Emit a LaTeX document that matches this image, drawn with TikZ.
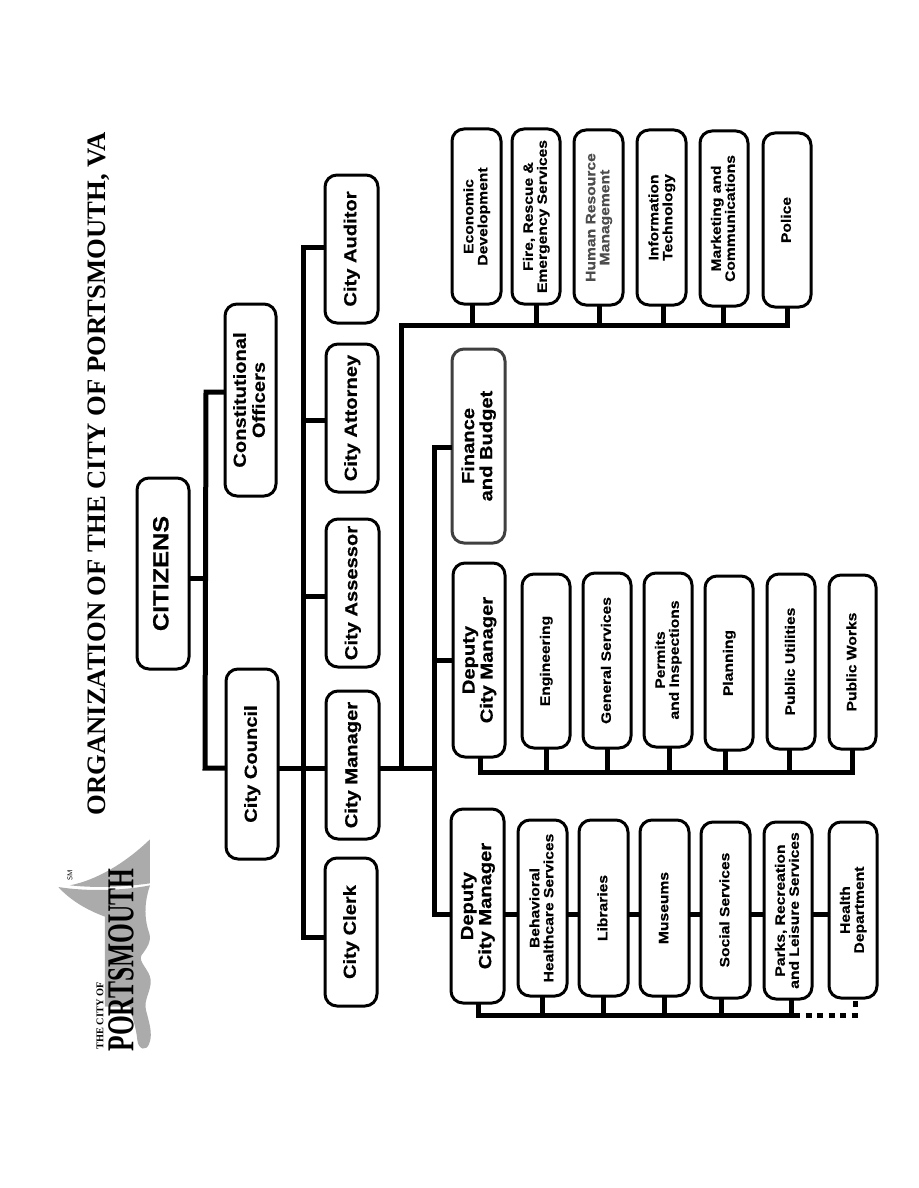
\documentclass[tikz,border=0pt]{standalone}
\usepackage{graphicx}
\usepackage{fontspec}
\setmainfont{Liberation Serif}
\newfontfamily\labfont[FakeStretch=1.15,BoldFeatures={FakeBold=0.5}]{Liberation Sans}
\newcommand\lbl[3]{\hspace{2pt}\rotatebox{90}{\fontsize{#1}{#2}\selectfont\labfont\bfseries\begin{tabular}{@{}c@{}}#3\end{tabular}}}
\newcommand\ubox[7][]{\node[orgbox,#1,minimum width={#4-#2-2},minimum height={#5-#3-2}] (#6) at ({(#2+#4)/2},{(#3+#5)/2}) {#7};}
\colorlet{sail}{black!33}
\tikzset{
 orgbox/.style={draw=black,line width=3pt,rounded corners=12pt,fill=white,inner sep=0pt,outer sep=0pt},
 grayorg/.style={draw=black!75},
 link/.style={draw=black,line width=5pt,line cap=butt,line join=miter},
 dotlink/.style={draw=black,line width=5pt,dash pattern=on 6pt off 5.5pt},
}
\begin{document}
\begin{tikzpicture}[x=1pt,y=-1pt]
\useasboundingbox (0,0) rectangle (918,1188);
\fill[white] (0,0) rectangle (918,1188);
% logo
\begin{scope}[shift={(50,820)},x=0.3333pt,y=-0.3333pt]
\fill[sail] (300,58) .. controls (225,130) and (140,180) .. (60,196) .. controls (140,205) and (230,200) .. (300,190) -- cycle;
\fill[sail] (25,201) .. controls (110,215) and (220,212) .. (300,196) .. controls (285,240) and (280,290) .. (298,340) .. controls (305,365) and (290,385) .. (275,405) .. controls (262,425) and (300,450) .. (302,480) .. controls (305,510) and (280,540) .. (288,570) .. controls (295,600) and (310,640) .. (298,670) .. controls (290,695) and (265,690) .. (262,660) .. controls (258,620) and (248,600) .. (240,560) -- (165,560) -- (165,290) .. controls (110,270) and (60,240) .. (25,201) -- cycle;
\end{scope}
\node[rotate=90,anchor=center,inner sep=0pt,font=\fontsize{7}{7}\selectfont\sffamily] (sm) at (70,875) {SM};
\node[rotate=90,anchor=center,inner sep=0pt,font=\fontsize{10.3}{11}\selectfont\bfseries] (tco) at (100,1016) {THE CITY OF};
\node[rotate=90,anchor=center,inner sep=0pt] (pts) at (121,960) {\fontsize{38}{38}\selectfont\bfseries\scalebox{0.67}[1]{PORTSMOUTH}};
% title
\node[rotate=90,anchor=center,inner sep=0pt,font=\fontsize{26.65}{28}\selectfont\bfseries] (title) at (99,474) {ORGANIZATION OF THE CITY OF PORTSMOUTH, VA};
% boxes
\ubox{136}{477}{190}{670}{cit}{\lbl{22}{22}{CITIZENS}}
\ubox{224}{303}{277}{497}{con}{\lbl{17.5}{19}{Constitutional\\Officers}}
\ubox{225}{668}{279}{860}{cou}{\lbl{17.5}{19}{City Council}}
\ubox{324}{857}{378}{1007}{cle}{\lbl{17.5}{19}{City Clerk}}
\ubox{325}{690}{380}{840}{man}{\lbl{17.5}{19}{City Manager}}
\ubox{325}{518}{380}{668}{ass}{\lbl{17.5}{19}{City Assessor}}
\ubox{325}{343}{379}{493}{att}{\lbl{17.5}{19}{City Attorney}}
\ubox{324}{174}{379}{324}{aud}{\lbl{17.5}{19}{City Auditor}}
\ubox{450}{808}{505}{1004}{dcma}{\lbl{17.5}{18}{Deputy\\City Manager}}
\ubox{452}{562}{506}{758}{dcmb}{\lbl{17.5}{18}{Deputy\\City Manager}}
\ubox[grayorg]{451}{348}{506}{544}{fin}{\lbl{17.5}{18}{Finance\\and Budget}}
\ubox{451}{128}{502}{305}{eco}{\lbl{13.6}{14}{Economic\\Development}}
\ubox{511}{128}{561}{305}{fir}{\lbl{13.6}{14}{Fire, Rescue \&\\Emergency Services}}
\ubox{573}{129}{624}{306}{hrm}{\color{black!70}\lbl{13.6}{14}{Human Resource\\Management}}
\ubox{636}{129}{687}{306}{inf}{\lbl{13.6}{14}{Information\\Technology}}
\ubox{699}{130}{749}{307}{mar}{\lbl{13.6}{14}{Marketing and\\Communications}}
\ubox{762}{132}{812}{308}{pol}{\lbl{13.6}{14}{Police}}
\ubox{521}{573}{571}{749}{eng}{\lbl{13.6}{14}{Engineering}}
\ubox{582}{572}{632}{749}{gen}{\lbl{13.6}{14}{General Services}}
\ubox{643}{572}{693}{748}{per}{\lbl{13.6}{14}{Permits\\and Inspections}}
\ubox{704}{575}{754}{751}{pla}{\lbl{13.6}{14}{Planning}}
\ubox{766}{573}{816}{750}{uti}{\lbl{13.6}{14}{Public Utilities}}
\ubox{828}{574}{877}{750}{wor}{\lbl{13.6}{14}{Public Works}}
\ubox{517}{819}{568}{997}{beh}{\lbl{13.6}{14}{Behavioral\\Healthcare Services}}
\ubox{578}{819}{629}{997}{lib}{\lbl{13.6}{14}{Libraries}}
\ubox{639}{819}{690}{997}{mus}{\lbl{13.6}{14}{Museums}}
\ubox{700}{821}{751}{999}{soc}{\lbl{13.6}{14}{Social Services}}
\ubox{763}{821}{813}{1000}{par}{\lbl{13.6}{14}{Parks, Recreation\\and Leisure Services}}
\ubox{828}{821}{878}{999}{hea}{\lbl{13.6}{14}{Health\\Department}}
% junction coordinates
\coordinate (jcit) at (205,578);
\coordinate (jcon) at (206,392);
\coordinate (jcou) at (205,768);
\coordinate (bt) at (303.5,247);
\coordinate (bb) at (303.5,937);
\coordinate (batt) at (303.5,420);
\coordinate (bass) at (303.5,596);
\coordinate (jd) at (434,768);
\coordinate (jdt) at (434,447);
\coordinate (jdm) at (434,660);
\coordinate (jdb) at (434,914);
\coordinate (jm) at (401,768);
\coordinate (je) at (401,325);
\coordinate (ra) at (480,772);
\coordinate (rb) at (478,1015);
\coordinate (rbe) at (791,1015);
\coordinate (rh) at (855,1015);
% connectors
\draw[link] (cit.east |- jcit) -- (jcit);
\draw[link] (con.west |- jcon) -- (jcon) -- (jcou) -- (cou.west |- jcou);
\draw[link] (cou.east |- jcou) -- (man.west |- jcou);
\draw[link] (aud.west |- bt) -- (bt) -- (bb) -- (cle.west |- bb);
\draw[link] (bt |- batt) -- (att.west |- batt);
\draw[link] (bt |- bass) -- (ass.west |- bass);
\draw[link] (man.east |- jd) -- (jd);
\draw[link] (jm) -- (je) -- (je -| pol.south) -- (pol.south);
\draw[link] (472,0 |- eco.south) -- (472,0 |- je);
\draw[link] (536,0 |- fir.south) -- (536,0 |- je);
\draw[link] (599,0 |- hrm.south) -- (599,0 |- je);
\draw[link] (663,0 |- inf.south) -- (663,0 |- je);
\draw[link] (723,0 |- mar.south) -- (723,0 |- je);
\draw[link] (fin.west |- jdt) -- (jdt) -- (jdb) -- (dcma.west |- jdb);
\draw[link] (jdm) -- (dcmb.west |- jdm);
% deputy B row
\draw[link] (ra |- dcmb.south) -- (ra) -- (ra -| wor.south) -- (wor.south);
\draw[link] (546,0 |- eng.south) -- (546,0 |- ra);
\draw[link] (607,0 |- gen.south) -- (607,0 |- ra);
\draw[link] (669,0 |- per.south) -- (669,0 |- ra);
\draw[link] (725,0 |- pla.south) -- (725,0 |- ra);
\draw[link] (789,0 |- uti.south) -- (789,0 |- ra);
% deputy A row
\draw[link] (rb |- dcma.south) -- (rb) -- (rbe) -- (rbe |- par.south);
\draw[link] (542,0 |- beh.south) -- (542,0 |- rb);
\draw[link] (603,0 |- lib.south) -- (603,0 |- rb);
\draw[link] (664,0 |- mus.south) -- (664,0 |- rb);
\draw[link] (721,0 |- soc.south) -- (721,0 |- rb);
\draw[dotlink] (rbe) ++(3,0) -- (rh) -- (rh |- hea.south);
\draw[link] (dcma.east |- jdb) -- (beh.west |- jdb);
\draw[link] (beh.east |- jdb) -- (lib.west |- jdb);
\draw[link] (lib.east |- jdb) -- (mus.west |- jdb);
\draw[link] (mus.east |- jdb) -- (soc.west |- jdb);
\draw[link] (soc.east |- jdb) -- (par.west |- jdb);
\draw[link] (par.east |- jdb) -- (hea.west |- jdb);
\end{tikzpicture}
\end{document}
